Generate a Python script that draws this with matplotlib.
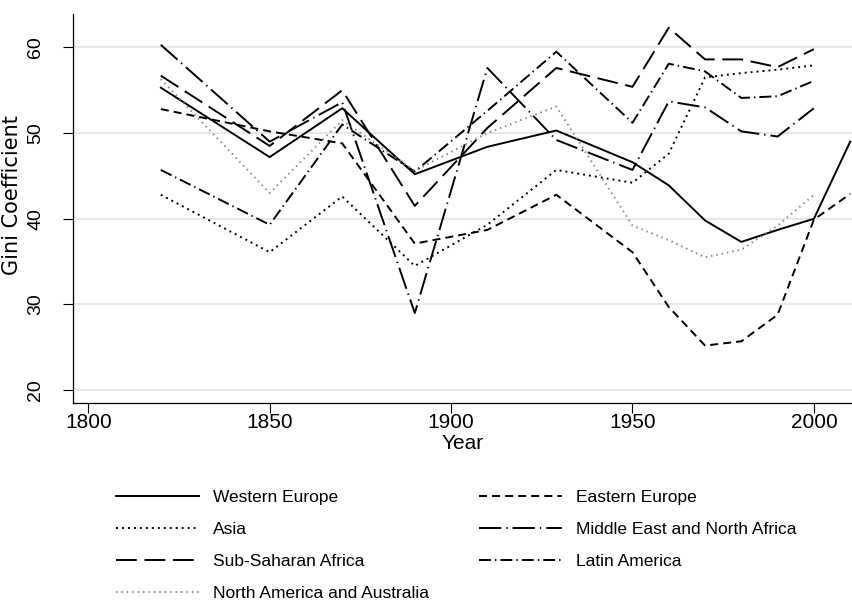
import numpy as np
import matplotlib
matplotlib.use("Agg")
import matplotlib.pyplot as plt

plt.rcParams['font.family'] = ['Liberation Sans', 'DejaVu Sans']
plt.rcParams['lines.scale_dashes'] = False

# Gini by region
years = [1820, 1850, 1870, 1890, 1910, 1929, 1950, 1960, 1970, 1980, 1990, 2000]
years_ext = years + [2010]

western_europe = [55.3, 47.2, 52.9, 45.2, 48.4, 50.3, 46.6, 43.9, 39.8, 37.3, 38.7, 40.0, 49.0]
eastern_europe = [52.8, 50.2, 48.8, 37.1, 38.7, 42.8, 36.1, 29.7, 25.2, 25.7, 28.8, 39.9, 42.9]
asia = [42.8, 36.1, 42.6, 34.5, 39.3, 45.7, 44.2, 47.6, 56.5, 57.0, 57.4, 57.9]
middle_east = [60.3, 49.0, 53.6, 29.0, 57.6, 49.2, 45.7, 53.7, 53.0, 50.2, 49.6, 52.9]
sub_saharan = [56.7, 48.5, 55.0, 41.5, 50.6, 57.6, 55.4, 62.3, 58.6, 58.6, 57.7, 59.8]
latin_america = [45.7, 39.3, 51.0, 45.5, 52.6, 59.5, 51.2, 58.1, 57.2, 54.1, 54.3, 56.1]
north_america = [56.3, 43.0, 51.5, 45.6, 50.0, 53.1, 39.2, 37.5, 35.5, 36.4, 39.2, 42.8]

fig = plt.figure(figsize=(8.52, 6.03), dpi=100)
ax = fig.add_axes([0.0857, 0.3317, 0.9143, 0.6451])

lw = 1.4
l_we, = ax.plot(years_ext, western_europe, color='black', lw=lw, ls='-')
l_ee, = ax.plot(years_ext, eastern_europe, color='black', lw=lw, ls=(0, (5.8, 3.6)))
l_as, = ax.plot(years, asia, color='black', lw=lw, ls=(0, (1.4, 2.9)))
l_me, = ax.plot(years, middle_east, color='black', lw=lw, ls=(0, (16, 3.6, 1, 3.6)))
l_ss, = ax.plot(years, sub_saharan, color='black', lw=lw, ls=(0, (15, 5.5)))
l_la, = ax.plot(years, latin_america, color='black', lw=lw, ls=(0, (8.6, 2.9, 1, 2.9)))
l_na, = ax.plot(years, north_america, color='#808080', lw=lw, ls=(0, (1, 2.9)))

ax.set_xlim(1795.8, 2010.5)
ax.set_ylim(18.5, 63.9)
ax.set_xticks([1800, 1850, 1900, 1950, 2000])
ax.set_yticks([20, 30, 40, 50, 60])
ax.yaxis.grid(True, color='#e6e6e6', lw=1.3)
ax.set_axisbelow(True)
for s in ['top', 'right']:
    ax.spines[s].set_visible(False)
for s in ['left', 'bottom']:
    ax.spines[s].set_linewidth(0.9)
ax.tick_params(axis='both', length=7, width=0.8)
ax.tick_params(axis='x', pad=0.5, labelsize=15)
ax.tick_params(axis='y', pad=13.75, labelsize=14)
plt.setp(ax.get_yticklabels(), rotation=90, va='center')
ax.set_xlabel('Year', fontsize=15)
ax.set_ylabel('Gini Coefficient', fontsize=15, family=['DejaVu Sans'])
ax.xaxis.set_label_coords(0.5, -0.0797)
ax.yaxis.set_label_coords(-0.0652, 0.535)

handles = [l_we, l_as, l_ss, l_na, l_ee, l_me, l_la]
labels = ['Western Europe', 'Asia', 'Sub-Saharan Africa', 'North America and Australia',
          'Eastern Europe', 'Middle East and North Africa', 'Latin America']
fig.legend(handles, labels, ncol=2, loc='upper left', bbox_to_anchor=(0.136, 0.1874),
           frameon=False, fontsize=12.5, handlelength=4.78, handletextpad=0.8,
           columnspacing=2.88, labelspacing=0.97, borderpad=0, borderaxespad=0)

fig.savefig('out.png', dpi=100)
